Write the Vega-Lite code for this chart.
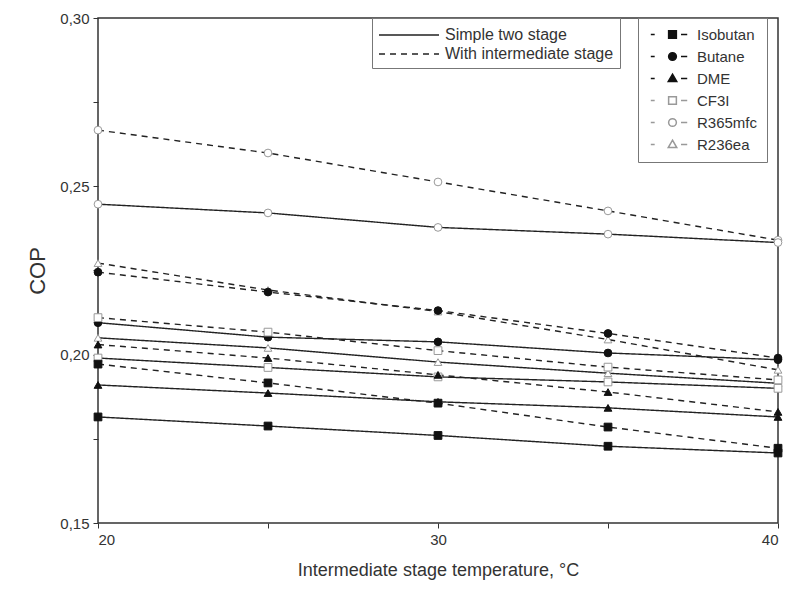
{
  "$schema": "https://vega.github.io/schema/vega-lite/v6.json",
  "width": 680,
  "height": 505,
  "autosize": {"type": "none"},
  "padding": {"left": 98, "top": 18, "right": 10, "bottom": 69},
  "background": "white",
  "config": {
    "font": "Liberation Sans",
    "view": {"stroke": "#333", "strokeWidth": 1.5},
    "axis": {
      "domain": false,
      "grid": false,
      "tickColor": "#333",
      "tickSize": 5,
      "labelFontSize": 15,
      "labelColor": "#333",
      "titleColor": "#333",
      "titleFontWeight": "normal"
    }
  },
  "data": {
    "values": [
      {"r": "R365mfc", "c": "With intermediate stage", "t": 20, "v": 0.2667},
      {"r": "R365mfc", "c": "With intermediate stage", "t": 25, "v": 0.2599},
      {"r": "R365mfc", "c": "With intermediate stage", "t": 30, "v": 0.2513},
      {"r": "R365mfc", "c": "With intermediate stage", "t": 35, "v": 0.2427},
      {"r": "R365mfc", "c": "With intermediate stage", "t": 40, "v": 0.2340},
      {"r": "R365mfc", "c": "Simple two stage", "t": 20, "v": 0.2447},
      {"r": "R365mfc", "c": "Simple two stage", "t": 25, "v": 0.2421},
      {"r": "R365mfc", "c": "Simple two stage", "t": 30, "v": 0.2378},
      {"r": "R365mfc", "c": "Simple two stage", "t": 35, "v": 0.2358},
      {"r": "R365mfc", "c": "Simple two stage", "t": 40, "v": 0.2333},
      {"r": "R236ea", "c": "With intermediate stage", "t": 20, "v": 0.2272},
      {"r": "R236ea", "c": "With intermediate stage", "t": 25, "v": 0.2192},
      {"r": "R236ea", "c": "With intermediate stage", "t": 30, "v": 0.2128},
      {"r": "R236ea", "c": "With intermediate stage", "t": 35, "v": 0.2045},
      {"r": "R236ea", "c": "With intermediate stage", "t": 40, "v": 0.1955},
      {"r": "R236ea", "c": "Simple two stage", "t": 20, "v": 0.2050},
      {"r": "R236ea", "c": "Simple two stage", "t": 25, "v": 0.2020},
      {"r": "R236ea", "c": "Simple two stage", "t": 30, "v": 0.1978},
      {"r": "R236ea", "c": "Simple two stage", "t": 35, "v": 0.1945},
      {"r": "R236ea", "c": "Simple two stage", "t": 40, "v": 0.1915},
      {"r": "Butane", "c": "With intermediate stage", "t": 20, "v": 0.2245},
      {"r": "Butane", "c": "With intermediate stage", "t": 25, "v": 0.2186},
      {"r": "Butane", "c": "With intermediate stage", "t": 30, "v": 0.2131},
      {"r": "Butane", "c": "With intermediate stage", "t": 35, "v": 0.2063},
      {"r": "Butane", "c": "With intermediate stage", "t": 40, "v": 0.1990},
      {"r": "Butane", "c": "Simple two stage", "t": 20, "v": 0.2095},
      {"r": "Butane", "c": "Simple two stage", "t": 25, "v": 0.2052},
      {"r": "Butane", "c": "Simple two stage", "t": 30, "v": 0.2038},
      {"r": "Butane", "c": "Simple two stage", "t": 35, "v": 0.2005},
      {"r": "Butane", "c": "Simple two stage", "t": 40, "v": 0.1985},
      {"r": "CF3I", "c": "With intermediate stage", "t": 20, "v": 0.2110},
      {"r": "CF3I", "c": "With intermediate stage", "t": 25, "v": 0.2067},
      {"r": "CF3I", "c": "With intermediate stage", "t": 30, "v": 0.2012},
      {"r": "CF3I", "c": "With intermediate stage", "t": 35, "v": 0.1963},
      {"r": "CF3I", "c": "With intermediate stage", "t": 40, "v": 0.1925},
      {"r": "CF3I", "c": "Simple two stage", "t": 20, "v": 0.1990},
      {"r": "CF3I", "c": "Simple two stage", "t": 25, "v": 0.1962},
      {"r": "CF3I", "c": "Simple two stage", "t": 30, "v": 0.1934},
      {"r": "CF3I", "c": "Simple two stage", "t": 35, "v": 0.1919},
      {"r": "CF3I", "c": "Simple two stage", "t": 40, "v": 0.1900},
      {"r": "DME", "c": "With intermediate stage", "t": 20, "v": 0.2030},
      {"r": "DME", "c": "With intermediate stage", "t": 25, "v": 0.1990},
      {"r": "DME", "c": "With intermediate stage", "t": 30, "v": 0.1940},
      {"r": "DME", "c": "With intermediate stage", "t": 35, "v": 0.1889},
      {"r": "DME", "c": "With intermediate stage", "t": 40, "v": 0.1830},
      {"r": "DME", "c": "Simple two stage", "t": 20, "v": 0.1910},
      {"r": "DME", "c": "Simple two stage", "t": 25, "v": 0.1886},
      {"r": "DME", "c": "Simple two stage", "t": 30, "v": 0.1860},
      {"r": "DME", "c": "Simple two stage", "t": 35, "v": 0.1842},
      {"r": "DME", "c": "Simple two stage", "t": 40, "v": 0.1815},
      {"r": "Isobutan", "c": "With intermediate stage", "t": 20, "v": 0.1972},
      {"r": "Isobutan", "c": "With intermediate stage", "t": 25, "v": 0.1916},
      {"r": "Isobutan", "c": "With intermediate stage", "t": 30, "v": 0.1856},
      {"r": "Isobutan", "c": "With intermediate stage", "t": 35, "v": 0.1785},
      {"r": "Isobutan", "c": "With intermediate stage", "t": 40, "v": 0.1722},
      {"r": "Isobutan", "c": "Simple two stage", "t": 20, "v": 0.1815},
      {"r": "Isobutan", "c": "Simple two stage", "t": 25, "v": 0.1788},
      {"r": "Isobutan", "c": "Simple two stage", "t": 30, "v": 0.1760},
      {"r": "Isobutan", "c": "Simple two stage", "t": 35, "v": 0.1728},
      {"r": "Isobutan", "c": "Simple two stage", "t": 40, "v": 0.1708}
    ]
  },
  "encoding": {
    "x": {
      "field": "t",
      "type": "quantitative",
      "scale": {"domain": [20, 40], "nice": false},
      "axis": {
        "title": "Intermediate stage temperature, °C",
        "titleFontSize": 18,
        "titlePadding": 14,
        "values": [20, 25, 30, 35, 40],
        "labelExpr": "datum.value % 10 == 0 ? datum.label : ''",
        "labelPadding": 4
      }
    },
    "y": {
      "field": "v",
      "type": "quantitative",
      "scale": {"domain": [0.15, 0.30], "nice": false, "zero": false},
      "axis": {
        "title": "COP",
        "titleFontSize": 22,
        "titlePadding": 10,
        "values": [0.15, 0.175, 0.2, 0.225, 0.25, 0.275, 0.3],
        "labelExpr": "round(datum.value * 1000) % 50 == 0 ? replace(format(datum.value, '.2f'), '.', ',') : ''",
        "labelPadding": 4
      }
    }
  },
  "resolve": {"scale": {"shape": "independent", "fill": "independent", "stroke": "independent"}},
  "layer": [
    {
      "mark": {"type": "line", "color": "#222", "strokeWidth": 1.4},
      "encoding": {
        "detail": {"field": "r", "type": "nominal"},
        "strokeDash": {
          "field": "c",
          "type": "nominal",
          "scale": {"domain": ["Simple two stage", "With intermediate stage"], "range": [[1, 0], [6, 5]]},
          "legend": {
            "title": null,
            "orient": "none",
            "legendX": 274,
            "legendY": 0,
            "direction": "vertical",
            "symbolType": "M-1,0H5",
            "symbolSize": 400,
            "symbolStrokeWidth": 1.4,
            "symbolStrokeColor": "#222",
            "labelOffset": 45,
            "labelFontSize": 16,
            "labelLimit": 400,
            "labelColor": "#333",
            "padding": 6,
            "rowPadding": 0,
            "strokeColor": "#777",
            "fillColor": "white"
          }
        }
      }
    },
    {
      "mark": {"type": "point", "filled": true, "size": 60, "strokeWidth": 1, "opacity": 1},
      "encoding": {
        "shape": {
          "field": "r",
          "type": "nominal",
          "scale": {
            "domain": ["Isobutan", "Butane", "DME", "CF3I", "R365mfc", "R236ea"],
            "range": ["square", "circle", "triangle-up", "square", "circle", "triangle-up"]
          },
          "legend": null
        },
        "fill": {
          "field": "r",
          "type": "nominal",
          "scale": {
            "domain": ["Isobutan", "Butane", "DME", "CF3I", "R365mfc", "R236ea"],
            "range": ["#111", "#111", "#111", "white", "white", "white"]
          },
          "legend": null
        },
        "stroke": {
          "field": "r",
          "type": "nominal",
          "scale": {
            "domain": ["Isobutan", "Butane", "DME", "CF3I", "R365mfc", "R236ea"],
            "range": ["#111", "#111", "#111", "#999", "#999", "#999"]
          },
          "legend": null
        }
      }
    },
    {
      "transform": [{"filter": "datum.t > 100"}],
      "mark": {"type": "point", "filled": true, "size": 60, "strokeWidth": 1.5, "opacity": 1},
      "encoding": {
        "shape": {
          "field": "r",
          "type": "nominal",
          "scale": {
            "domain": ["Isobutan", "Butane", "DME", "CF3I", "R365mfc", "R236ea"],
            "range": [
              "M-5.6,0H-4.6M-1,-1H1V1H-1ZM2.2,0H3.8",
              "M-5.6,0H-4.6M1,0A1,1,0,1,1,-1,0A1,1,0,1,1,1,0ZM2.2,0H3.8",
              "M-5.6,0H-4.6M0,-1.1L1.1,0.8H-1.1ZM2.2,0H3.8",
              "M-5.6,0H-4.6M-1,-1H1V1H-1ZM2.2,0H3.8",
              "M-5.6,0H-4.6M1,0A1,1,0,1,1,-1,0A1,1,0,1,1,1,0ZM2.2,0H3.8",
              "M-5.6,0H-4.6M0,-1.1L1.1,0.8H-1.1ZM2.2,0H3.8"
            ]
          },
          "legend": {
            "title": null,
            "orient": "none",
            "legendX": 540,
            "legendY": 0,
            "direction": "vertical",
            "labelFontSize": 15,
            "labelColor": "#333",
            "symbolSize": 60,
            "symbolOffset": 18,
            "labelOffset": 17,
            "padding": 9,
            "rowPadding": 6,
            "strokeColor": "#777",
            "fillColor": "white"
          }
        },
        "fill": {
          "field": "r",
          "type": "nominal",
          "scale": {
            "domain": ["Isobutan", "Butane", "DME", "CF3I", "R365mfc", "R236ea"],
            "range": ["#111", "#111", "#111", "white", "white", "white"]
          },
          "legend": {
            "title": null,
            "orient": "none",
            "legendX": 540,
            "legendY": 0,
            "direction": "vertical",
            "labelFontSize": 15,
            "labelColor": "#333",
            "symbolSize": 60,
            "symbolOffset": 18,
            "labelOffset": 17,
            "padding": 9,
            "rowPadding": 6,
            "strokeColor": "#777",
            "fillColor": "white"
          }
        },
        "stroke": {
          "field": "r",
          "type": "nominal",
          "scale": {
            "domain": ["Isobutan", "Butane", "DME", "CF3I", "R365mfc", "R236ea"],
            "range": ["#111", "#111", "#111", "#999", "#999", "#999"]
          },
          "legend": {
            "title": null,
            "orient": "none",
            "legendX": 540,
            "legendY": 0,
            "direction": "vertical",
            "labelFontSize": 15,
            "labelColor": "#333",
            "symbolSize": 60,
            "symbolOffset": 18,
            "labelOffset": 17,
            "padding": 9,
            "rowPadding": 6,
            "strokeColor": "#777",
            "fillColor": "white"
          }
        }
      }
    }
  ]
}
